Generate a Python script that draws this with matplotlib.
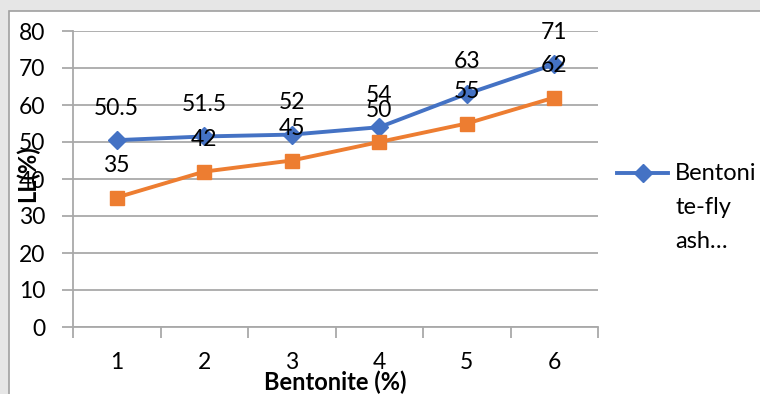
import matplotlib
matplotlib.use("Agg")
import matplotlib.pyplot as plt
from matplotlib.patches import Rectangle
from matplotlib.lines import Line2D

# Data
categories = [1, 2, 3, 4, 5, 6]
blend_ll = [50.5, 51.5, 52, 54, 63, 71]
second_ll = [35, 42, 45, 50, 55, 62]
y_ticks = [0, 10, 20, 30, 40, 50, 60, 70, 80]

plt.rcParams['font.family'] = ['Lato', 'DejaVu Sans']

W, H = 760, 394
fig = plt.figure(figsize=(W / 100, H / 100), dpi=100)
fig.patch.set_facecolor('#e6e6e6')

# white chart frame
fig.patches.append(Rectangle((9 / W, -0.05), 1.1, 1 - 11 / H + 0.05,
                             transform=fig.transFigure, facecolor='white',
                             edgecolor='#a0a0a0', linewidth=1.2, zorder=-10))

ax = fig.add_axes([73 / W, 1 - 327 / H, (598 - 73) / W, (327 - 31) / H])
ax.set_facecolor('none')

blue = '#4472C4'
orange = '#ED7D31'
grid_c = '#a9a9a9'
num_fs = 16.5

ax.plot(categories, blend_ll, color=blue, lw=2.8, marker='D', ms=9,
        markeredgecolor=blue, zorder=3, clip_on=False)
ax.plot(categories, second_ll, color=orange, lw=2.8, marker='s', ms=10,
        markeredgecolor=orange, zorder=3, clip_on=False)

for x, v in zip(categories, blend_ll):
    ax.annotate(f'{v:g}', (x, v), xytext=(0, 23), textcoords='offset points',
                ha='center', va='center', fontsize=num_fs, color='black', zorder=4)
for x, v in zip(categories, second_ll):
    ax.annotate(f'{v:g}', (x, v), xytext=(0, 23), textcoords='offset points',
                ha='center', va='center', fontsize=num_fs, color='black', zorder=4)

ax.set_xlim(0.5, 6.5)
ax.set_ylim(0, 80)
ax.set_yticks(y_ticks)
ax.set_yticklabels([str(t) for t in y_ticks], fontsize=num_fs)
ax.yaxis.grid(True, color=grid_c, lw=1.3)
ax.set_axisbelow(True)

ax.set_xticks(categories)
ax.set_xticklabels([str(c) for c in categories], fontsize=num_fs)
ax.set_xticks([c - 0.5 for c in categories] + [6.5], minor=True)
ax.tick_params(axis='x', which='major', length=0, pad=18)
ax.tick_params(axis='x', which='minor', length=8, color=grid_c, width=1.3)
ax.tick_params(axis='y', length=8, color=grid_c, width=1.3, pad=12)

for s in ['top', 'right']:
    ax.spines[s].set_visible(False)
ax.spines['left'].set_color(grid_c)
ax.spines['bottom'].set_color(grid_c)
ax.spines['left'].set_linewidth(1.3)
ax.spines['bottom'].set_linewidth(1.3)

ax.set_xlabel('Bentonite (%)', fontsize=17, fontweight='bold', labelpad=-2)
fig.text(27 / W, 1 - 174 / H, 'LL(%)', rotation=90, fontsize=17,
         fontweight='bold', ha='center', va='center')

# legend
fig.lines.append(Line2D([617 / W, 668 / W], [1 - 173 / H, 1 - 173 / H],
                        transform=fig.transFigure, color=blue, lw=2.8))
fig.lines.append(Line2D([642.5 / W], [1 - 173 / H], transform=fig.transFigure,
                        color=blue, marker='D', ms=9, markeredgecolor=blue))
for txt, yy in [('Bentoni', 173), ('te-fly', 208), ('ash…', 241)]:
    fig.text(675 / W, 1 - yy / H, txt, fontsize=17, ha='left', va='center')

fig.savefig('out.png', dpi=100, facecolor=fig.get_facecolor())
